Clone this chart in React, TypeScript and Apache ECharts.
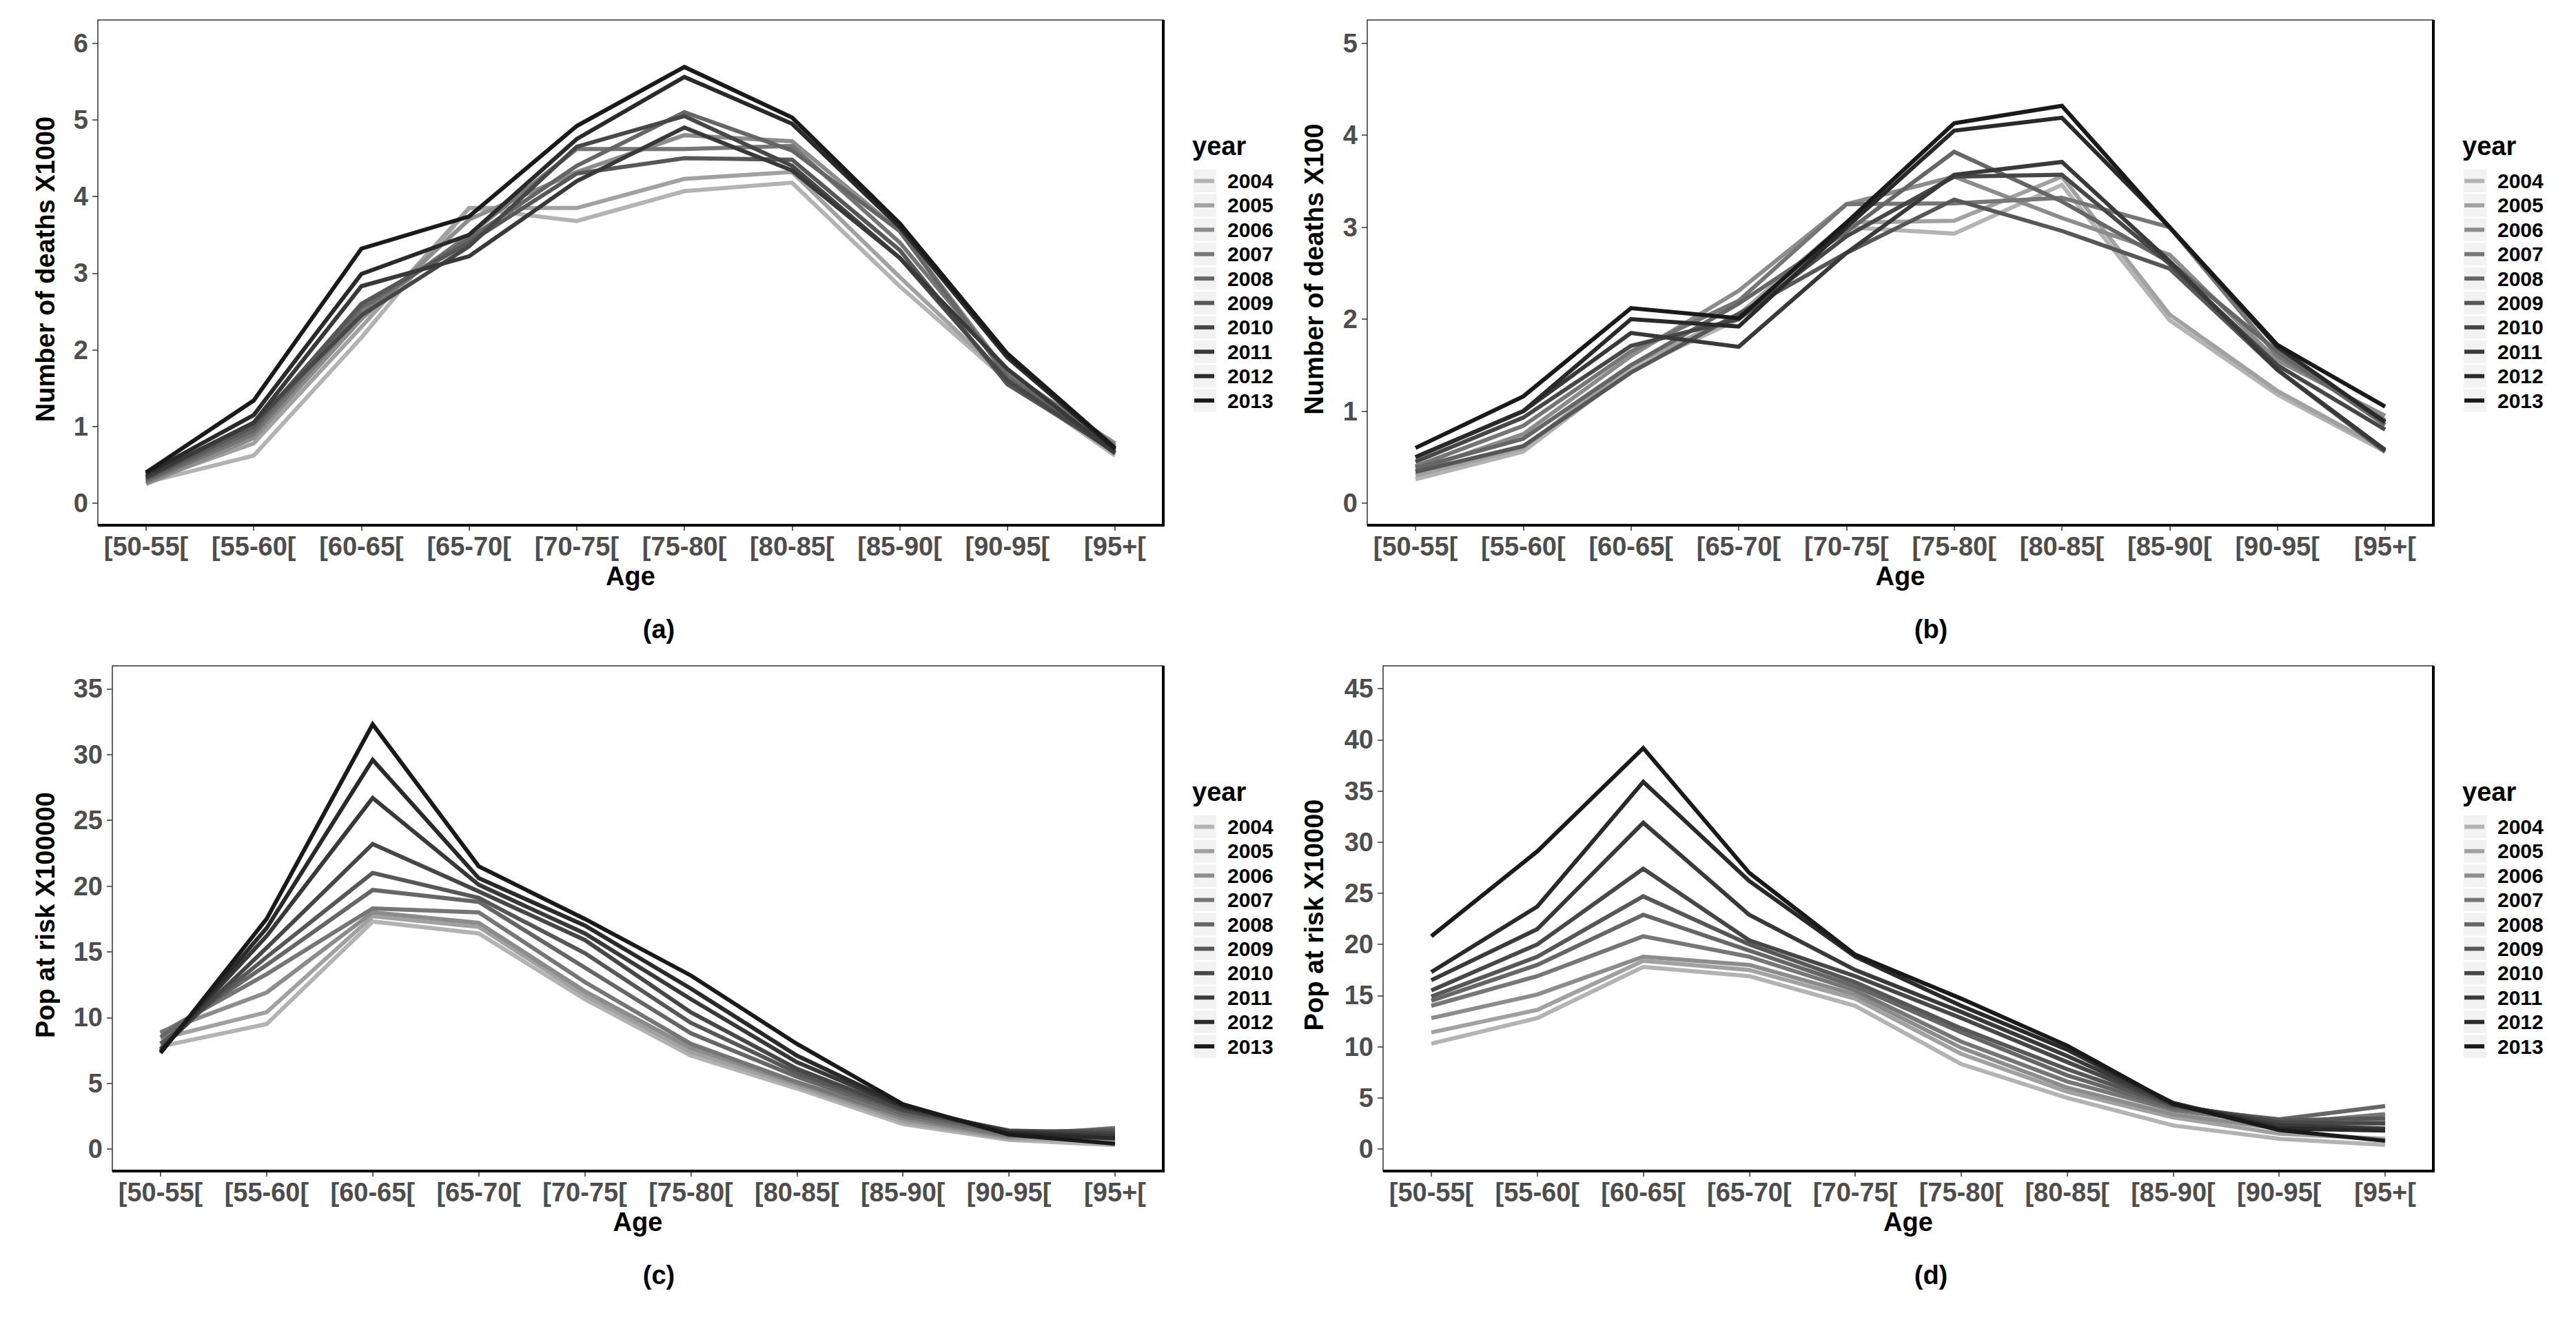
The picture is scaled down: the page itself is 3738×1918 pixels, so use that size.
import React, { useEffect, useRef } from 'react';
import * as echarts from 'echarts';

const AGE_GROUPS = ['[50-55[', '[55-60[', '[60-65[', '[65-70[', '[70-75[', '[75-80[', '[80-85[', '[85-90[', '[90-95[', '[95+['];
const YEARS = ['2004', '2005', '2006', '2007', '2008', '2009', '2010', '2011', '2012', '2013'];

const Y_TICKS_A = [0, 1, 2, 3, 4, 5, 6];
const Y_TICKS_B = [0, 1, 2, 3, 4, 5];
const Y_TICKS_C = [0, 5, 10, 15, 20, 25, 30, 35];
const Y_TICKS_D = [0, 5, 10, 15, 20, 25, 30, 35, 40, 45];

// (a) Number of deaths X1000, one row per year 2004..2013
const DEATHS_X1000: number[][] = [
  [0.27, 0.62, 2.16, 3.85, 3.68, 4.07, 4.18, 2.83, 1.60, 0.62],
  [0.28, 0.78, 2.30, 3.85, 3.85, 4.23, 4.32, 2.95, 1.62, 0.65],
  [0.25, 0.85, 2.40, 3.70, 4.32, 4.80, 4.72, 3.55, 1.70, 0.78],
  [0.28, 0.90, 2.48, 3.50, 4.62, 4.62, 4.66, 3.40, 1.72, 0.75],
  [0.30, 0.95, 2.55, 3.45, 4.40, 5.10, 4.60, 3.55, 1.65, 0.70],
  [0.32, 1.00, 2.60, 3.40, 4.30, 4.50, 4.48, 3.30, 1.55, 0.68],
  [0.33, 1.05, 2.45, 3.35, 4.65, 5.05, 4.40, 3.20, 1.60, 0.66],
  [0.35, 1.05, 2.83, 3.22, 4.20, 4.90, 4.34, 3.20, 1.75, 0.65],
  [0.38, 1.15, 2.99, 3.50, 4.75, 5.56, 4.95, 3.60, 1.90, 0.70],
  [0.40, 1.34, 3.32, 3.74, 4.92, 5.69, 5.03, 3.65, 1.95, 0.72],
];

// (b) Number of deaths X100
const DEATHS_X100: number[][] = [
  [0.26, 0.56, 1.45, 2.00, 3.00, 2.93, 3.46, 1.99, 1.18, 0.56],
  [0.30, 0.60, 1.50, 2.05, 3.05, 3.07, 3.55, 2.05, 1.22, 0.58],
  [0.35, 0.75, 1.60, 2.31, 3.25, 3.55, 3.10, 2.70, 1.55, 0.95],
  [0.40, 0.84, 1.65, 2.20, 3.25, 3.26, 3.32, 3.00, 1.60, 0.90],
  [0.38, 0.70, 1.50, 2.17, 2.95, 3.82, 3.28, 2.62, 1.65, 0.85],
  [0.34, 0.62, 1.42, 2.06, 2.72, 3.30, 2.96, 2.55, 1.45, 0.56],
  [0.45, 0.93, 1.71, 2.00, 2.90, 3.55, 3.57, 2.60, 1.50, 0.80],
  [0.50, 1.00, 1.85, 1.70, 2.72, 3.57, 3.71, 2.63, 1.45, 0.58],
  [0.50, 1.00, 2.00, 1.92, 3.00, 4.05, 4.19, 3.00, 1.70, 0.88],
  [0.60, 1.16, 2.12, 2.01, 3.05, 4.13, 4.32, 3.00, 1.72, 1.05],
];

// (c) Pop at risk X100000
const POP_X100000: number[][] = [
  [7.8, 9.5, 17.3, 16.4, 11.4, 7.1, 4.6, 1.9, 0.7, 0.3],
  [8.4, 10.4, 17.7, 16.9, 11.7, 7.4, 4.8, 2.1, 0.8, 0.6],
  [8.9, 11.9, 18.0, 17.2, 12.0, 7.7, 5.0, 2.3, 0.9, 1.0],
  [8.8, 13.3, 18.3, 18.0, 12.7, 8.0, 5.1, 2.5, 1.0, 1.6],
  [8.5, 14.0, 19.7, 18.8, 13.8, 8.8, 5.5, 2.7, 1.2, 1.5],
  [8.0, 14.6, 21.0, 19.1, 14.9, 9.6, 5.8, 2.9, 1.3, 1.4],
  [7.6, 15.3, 23.2, 19.6, 15.9, 10.4, 6.1, 3.0, 1.4, 1.2],
  [7.5, 16.2, 26.7, 20.1, 16.4, 11.4, 6.6, 3.2, 1.3, 1.0],
  [7.4, 16.8, 29.6, 20.6, 17.0, 12.2, 7.1, 3.3, 1.2, 0.8],
  [7.3, 17.5, 32.3, 21.5, 17.5, 13.2, 8.0, 3.4, 1.1, 0.4],
];

// (d) Pop at risk X10000
const POP_X10000: number[][] = [
  [10.3, 12.8, 17.8, 16.9, 14.0, 8.3, 5.0, 2.3, 1.0, 0.4],
  [11.4, 13.6, 18.4, 17.5, 14.7, 9.3, 5.6, 3.1, 1.5, 1.0],
  [12.8, 15.1, 18.8, 18.0, 15.1, 9.9, 6.0, 3.4, 2.0, 2.8],
  [14.0, 16.9, 20.8, 18.8, 15.5, 10.5, 6.6, 3.8, 2.5, 3.4],
  [14.5, 18.0, 22.9, 19.4, 15.9, 11.4, 7.2, 4.0, 2.9, 4.2],
  [14.9, 18.8, 24.7, 20.0, 16.3, 11.8, 7.8, 4.2, 2.8, 3.0],
  [15.5, 20.0, 27.4, 20.4, 16.9, 12.8, 8.5, 4.3, 2.6, 2.5],
  [16.5, 21.5, 31.9, 22.9, 17.5, 13.4, 9.1, 4.4, 2.3, 2.0],
  [17.3, 23.7, 35.9, 26.2, 18.8, 14.0, 9.7, 4.5, 2.0, 1.8],
  [20.8, 29.1, 39.2, 27.0, 19.0, 14.7, 10.1, 4.4, 1.85, 0.8],
];

const GREYS = ['#b3b3b3', '#a1a1a1', '#8c8c8c', '#767676', '#666666', '#575757', '#474747', '#393939', '#2a2a2a', '#1a1a1a'];
const FONT = '"Liberation Sans", Arial, Helvetica, sans-serif';

type Panel = {
  values: number[][];
  yTitle: string;
  yTicks: number[];
  yMin: number;
  yMax: number;
  frame: { l: number; t: number; r: number; b: number };
  xPad: number;
  titleX: number;
  legendX: number;
  dy: number;
  tag: string;
  tagX: number;
};

const PANELS: Panel[] = [
  { values: DEATHS_X1000, yTitle: 'Number of deaths X1000', yTicks: Y_TICKS_A, yMin: -0.288, yMax: 6.303,
    frame: { l: 142, t: 29, r: 1688, b: 762 }, xPad: 0.448, titleX: 66, legendX: 1733, dy: 0, tag: '(a)', tagX: 956 },
  { values: DEATHS_X100, yTitle: 'Number of deaths X100', yTicks: Y_TICKS_B, yMin: -0.24, yMax: 5.253,
    frame: { l: 1984, t: 29, r: 3531, b: 762 }, xPad: 0.448, titleX: 1907, legendX: 3576, dy: 0, tag: '(b)', tagX: 2802 },
  { values: POP_X100000, yTitle: 'Pop at risk X100000', yTicks: Y_TICKS_C, yMin: -1.677, yMax: 36.75,
    frame: { l: 163, t: 966, r: 1688, b: 1699 }, xPad: 0.455, titleX: 66, legendX: 1733, dy: 937, tag: '(c)', tagX: 956 },
  { values: POP_X10000, yTitle: 'Pop at risk X10000', yTicks: Y_TICKS_D, yMin: -2.157, yMax: 47.24,
    frame: { l: 2007, t: 966, r: 3531, b: 1699 }, xPad: 0.455, titleX: 1907, legendX: 3576, dy: 937, tag: '(d)', tagX: 2802 },
];

const LEGEND_FIRST_CENTER = 262.5;
const LEGEND_STEP = 35.4;

function buildOption() {
  const xIdx = AGE_GROUPS.map((_, k) => k);
  const grid = PANELS.map((p) => ({
    left: p.frame.l,
    top: p.frame.t,
    width: p.frame.r - p.frame.l,
    height: p.frame.b - p.frame.t,
    containLabel: false,
  }));
  const tickLabel = { fontSize: 38, fontWeight: 'bold', fontFamily: FONT, color: '#4d4d4d' };
  const xAxis = PANELS.map((p, i) => ({
    type: 'value',
    gridIndex: i,
    position: 'bottom',
    min: -p.xPad,
    max: 9 + p.xPad,
    axisLine: { show: false, onZero: false },
    splitLine: { show: false },
    axisTick: { show: true, length: 8, customValues: xIdx, lineStyle: { color: '#333333', width: 1.5 } },
    axisLabel: {
      ...tickLabel,
      margin: 12,
      customValues: xIdx,
      formatter: (v: number) => AGE_GROUPS[Math.round(v)] ?? '',
    },
  }));
  const yAxis = PANELS.map((p, i) => ({
    type: 'value',
    gridIndex: i,
    position: 'left',
    min: p.yMin,
    max: p.yMax,
    axisLine: { show: false, onZero: false },
    splitLine: { show: false },
    axisTick: { show: true, length: 8, customValues: p.yTicks, lineStyle: { color: '#333333', width: 1.5 } },
    axisLabel: { ...tickLabel, margin: 14, customValues: p.yTicks, formatter: (v: number) => String(v) },
  }));
  const series: any[] = [];
  PANELS.forEach((p, i) => {
    YEARS.forEach((year, k) => {
      series.push({
        type: 'line',
        name: year,
        xAxisIndex: i,
        yAxisIndex: i,
        data: p.values[k].map((v, j) => [j, v]),
        symbol: 'none',
        showSymbol: false,
        color: GREYS[k],
        lineStyle: { width: 6, color: GREYS[k], join: 'miter' },
        z: 2 + k * 0.01,
        silent: true,
      });
    });
  });
  const legend = PANELS.map((p) => ({
    orient: 'vertical',
    left: p.legendX,
    top: LEGEND_FIRST_CENTER - LEGEND_STEP / 2 + p.dy,
    padding: 0,
    itemGap: 0,
    itemWidth: 29,
    itemHeight: 6,
    icon: 'rect',
    selectedMode: false,
    data: YEARS,
    textStyle: {
      fontSize: 30,
      fontWeight: 'bold',
      fontFamily: FONT,
      color: '#000000',
      lineHeight: LEGEND_STEP,
      padding: [0, 0, 0, 14],
    },
  }));
  const graphic: any[] = [];
  PANELS.forEach((p) => {
    const { l, t, r, b } = p.frame;
    // legend key backgrounds
    YEARS.forEach((_, k) => {
      const cy = LEGEND_FIRST_CENTER + LEGEND_STEP * k + p.dy;
      graphic.push({
        type: 'rect',
        z: 0,
        silent: true,
        shape: { x: p.legendX - 1, y: cy - 16.5, width: 33, height: 33 },
        style: { fill: '#f2f2f2' },
      });
    });
    graphic.push({
      type: 'text',
      silent: true,
      x: p.legendX - 3,
      y: 212 + p.dy,
      style: { text: 'year', fontSize: 38, fontWeight: 'bold', fontFamily: FONT, fill: '#000000', textAlign: 'left', align: 'left', textVerticalAlign: 'middle', verticalAlign: 'middle' },
    });
    // panel frame
    graphic.push({
      type: 'rect',
      silent: true,
      z: 10,
      shape: { x: l, y: t, width: r - l, height: b - t },
      style: { fill: 'none', stroke: '#333333', lineWidth: 1.5 },
    });
    graphic.push({
      type: 'line',
      silent: true,
      z: 11,
      shape: { x1: l, y1: b, x2: r + 2, y2: b },
      style: { stroke: '#000000', lineWidth: 4 },
    });
    graphic.push({
      type: 'line',
      silent: true,
      z: 11,
      shape: { x1: r, y1: t, x2: r, y2: b + 2 },
      style: { stroke: '#000000', lineWidth: 4 },
    });
    // y-axis title
    graphic.push({
      type: 'text',
      silent: true,
      x: p.titleX,
      y: (t + b) / 2 - 5,
      rotation: Math.PI / 2,
      style: { text: p.yTitle, fontSize: 38, fontWeight: 'bold', fontFamily: FONT, fill: '#000000', textAlign: 'center', align: 'center', textVerticalAlign: 'middle', verticalAlign: 'middle' },
    });
    // x-axis title
    graphic.push({
      type: 'text',
      silent: true,
      x: (l + r) / 2,
      y: 836 + p.dy,
      style: { text: 'Age', fontSize: 38, fontWeight: 'bold', fontFamily: FONT, fill: '#000000', textAlign: 'center', align: 'center', textVerticalAlign: 'middle', verticalAlign: 'middle' },
    });
    // panel tag
    graphic.push({
      type: 'text',
      silent: true,
      x: p.tagX,
      y: 913 + p.dy,
      style: { text: p.tag, fontSize: 38, fontWeight: 'bold', fontFamily: FONT, fill: '#000000', textAlign: 'center', align: 'center', textVerticalAlign: 'middle', verticalAlign: 'middle' },
    });
  });

  return {
    animation: false,
    backgroundColor: '#ffffff',
    grid,
    xAxis,
    yAxis,
    legend,
    series,
    graphic,
  };
}

export default function App() {
  const ref = useRef<HTMLDivElement | null>(null);
  useEffect(() => {
    if (!ref.current) return;
    const chart = echarts.init(ref.current, undefined, { renderer: 'svg' });
    chart.setOption(buildOption() as any);
    return () => {
      chart.dispose();
    };
  }, []);
  return (
    <div
      ref={ref}
      style={{ position: 'fixed', left: 0, top: 0, width: '3738px', height: '1918px', background: '#ffffff' }}
    />
  );
}
